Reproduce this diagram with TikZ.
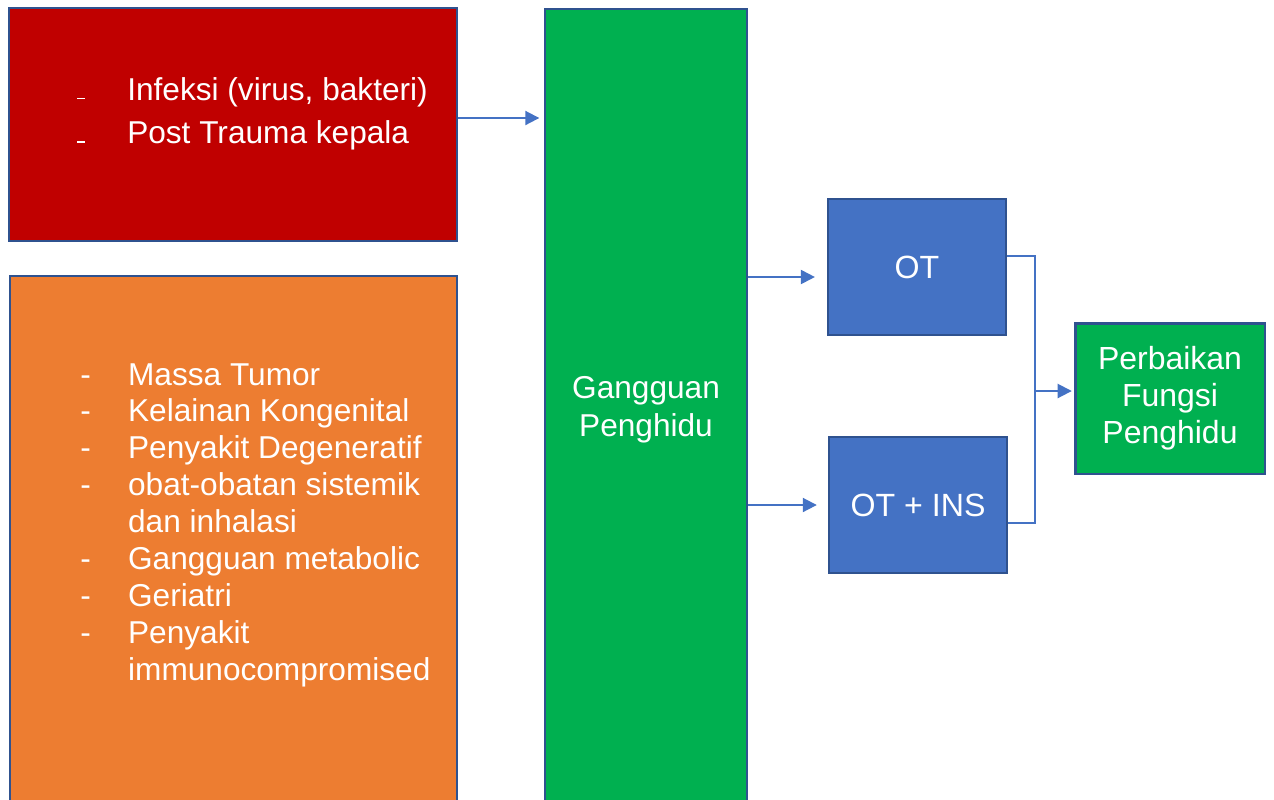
\documentclass[tikz,border=0pt]{standalone}
\usepackage{fontspec}
\setmainfont{Liberation Sans}
\usetikzlibrary{arrows.meta}
\definecolor{redbox}{HTML}{C00000}
\definecolor{orangebox}{HTML}{ED7D31}
\definecolor{greenbox}{HTML}{00B050}
\definecolor{bluebox}{HTML}{4472C4}
\definecolor{edgeblue}{HTML}{2F528F}
\newcommand{\lowdash}{\raisebox{0.5pt}{\rule{4.6pt}{0.9pt}}}
\begin{document}
\begin{tikzpicture}[x=0.02cm,y=-0.02cm]
			\tikzstyle{box}= [draw=edgeblue,line width=0.9pt,rectangle,inner sep=0pt,text=white]
			\tikzstyle{arrow}= [draw=bluebox,line width=1.1pt,-{Triangle[length=8pt,width=8pt]}]
			\tikzstyle{link}= [draw=bluebox,line width=0.6pt]
			\useasboundingbox (0,0) rectangle (1274,799);
			\clip (0,0) rectangle (1274,799);
			% left column
			\node [box,fill=redbox,minimum width=8.96cm,minimum height=4.66cm] (red) at (233,124.5) {};
			\node [box,fill=orangebox,minimum width=8.94cm,minimum height=10.68cm] (orange) at (233.5,543) {};
			\node [text=white,anchor=base west,inner sep=0pt] (redlist) at (77,100)
				{\fontsize{18}{25}\selectfont\begin{tabular}[t]{@{}p{28.4pt}@{}l@{}}
					\lowdash & Infeksi (virus, bakteri)\\
					\lowdash & Post Trauma kepala
				\end{tabular}};
			\node [text=white,anchor=base west,inner sep=0pt] (orangelist) at (80,385)
				{\fontsize{18}{21}\selectfont\begin{tabular}[t]{@{}p{27.2pt}@{}l@{}}
					- & Massa Tumor\\
					- & Kelainan Kongenital\\
					- & Penyakit Degeneratif\\
					- & obat-obatan sistemik\\
					  & dan inhalasi\\
					- & Gangguan metabolic\\
					- & Geriatri\\
					- & Penyakit\\
					  & immunocompromised
				\end{tabular}};
			% middle and right
			\node [box,fill=greenbox,minimum width=4.04cm,minimum height=16.02cm,align=center,
				font=\fontsize{18}{21.5}\selectfont] (green) at (646,409.5) {Gangguan\\Penghidu};
			\node [box,fill=bluebox,minimum width=3.56cm,minimum height=2.72cm,
				font=\fontsize{18.3}{21}\selectfont] (ot) at (917,267) {OT};
			\node [box,fill=bluebox,minimum width=3.56cm,minimum height=2.72cm,
				font=\fontsize{18.3}{21}\selectfont] (otins) at (918,505) {OT + INS};
			\node [box,line width=1.7pt,fill=greenbox,minimum width=3.8cm,minimum height=3.02cm,align=center,
				font=\fontsize{18.2}{21}\selectfont] (fungsi) at (1170,398.5) {Perbaikan\\Fungsi\\Penghidu};
			\coordinate (join) at (1035,391);
			\draw [arrow,shorten >=2.8pt] (red.east |- 0,118) -- (green.west |- 0,118);
			\draw [arrow,shorten >=7pt] (green.east |- 0,277) -- (ot.west |- 0,277);
			\draw [arrow,shorten >=6.5pt] (green.east |- 0,505) -- (otins.west);
			\draw [link] (ot.east |- 0,256) -| (join) |- (otins.east |- 0,523);
			\draw [arrow,shorten >=1pt] (join) -- (fungsi.west |- join);
		\end{tikzpicture}
\end{document}
